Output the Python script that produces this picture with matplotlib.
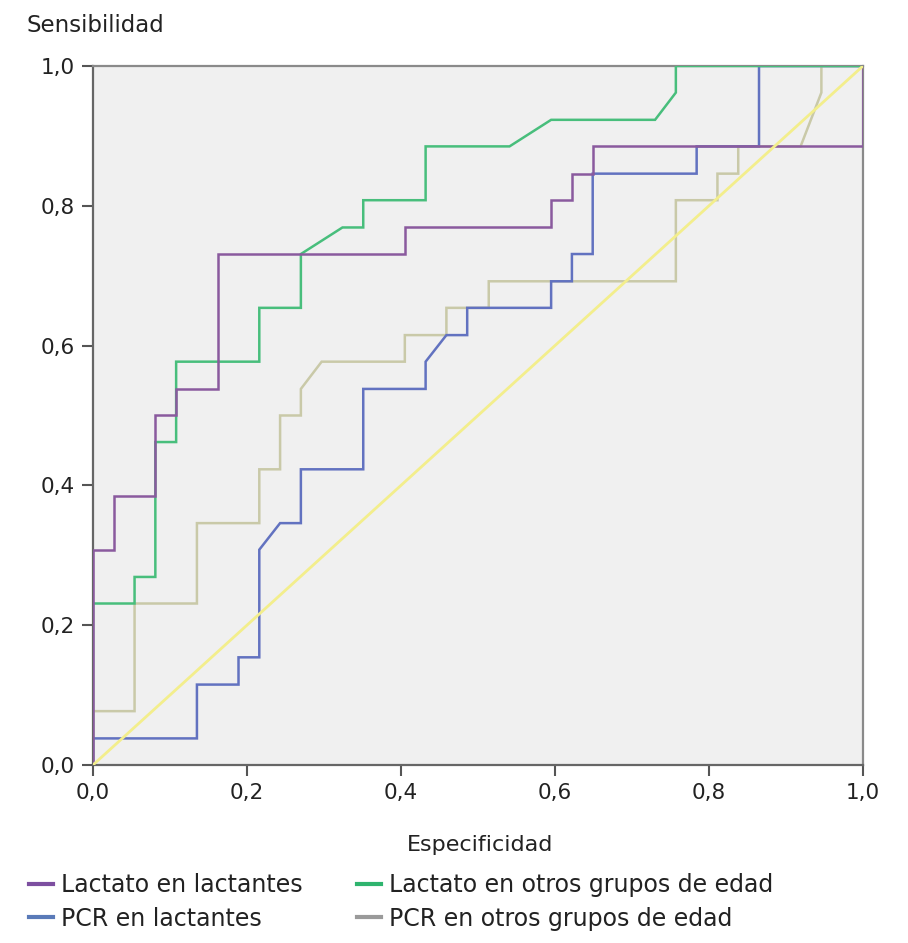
import matplotlib.pyplot as plt
from matplotlib.lines import Line2D
from matplotlib.ticker import FuncFormatter

# curvas COR (1 - especificidad, sensibilidad)
lact_lact_x = [0, 0, 0.027, 0.027, 0.081, 0.081, 0.108, 0.108, 0.162, 0.162, 0.405, 0.405,
               0.595, 0.595, 0.622, 0.622, 0.649, 0.649, 1.0, 1.0]
lact_lact_y = [0, 0.308, 0.308, 0.385, 0.385, 0.5, 0.5, 0.538, 0.538, 0.731, 0.731, 0.769,
               0.769, 0.808, 0.808, 0.846, 0.846, 0.885, 0.885, 1.0]

pcr_lact_x = [0, 0, 0.135, 0.135, 0.189, 0.189, 0.216, 0.216, 0.243, 0.270, 0.270, 0.351, 0.351,
              0.432, 0.432, 0.459, 0.486, 0.486, 0.595, 0.595, 0.622, 0.622, 0.649, 0.649,
              0.784, 0.784, 0.865, 0.865, 1.0]
pcr_lact_y = [0, 0.038, 0.038, 0.115, 0.115, 0.154, 0.154, 0.308, 0.346, 0.346, 0.423, 0.423, 0.538,
              0.538, 0.577, 0.615, 0.615, 0.654, 0.654, 0.692, 0.692, 0.731, 0.731, 0.846,
              0.846, 0.885, 0.885, 1.0, 1.0]

lact_otros_x = [0, 0, 0.054, 0.054, 0.081, 0.081, 0.108, 0.108, 0.216, 0.216, 0.270, 0.270,
                0.324, 0.351, 0.351, 0.432, 0.432, 0.541, 0.595, 0.730, 0.757, 0.757, 1.0]
lact_otros_y = [0, 0.231, 0.231, 0.269, 0.269, 0.462, 0.462, 0.577, 0.577, 0.654, 0.654, 0.731,
                0.769, 0.769, 0.808, 0.808, 0.885, 0.885, 0.923, 0.923, 0.962, 1.0, 1.0]

pcr_otros_x = [0, 0, 0.054, 0.054, 0.135, 0.135, 0.216, 0.216, 0.243, 0.243, 0.270, 0.270, 0.297,
               0.405, 0.405, 0.459, 0.459, 0.514, 0.514, 0.757, 0.757, 0.811, 0.811, 0.838,
               0.838, 0.919, 0.946, 0.946, 1.0]
pcr_otros_y = [0, 0.077, 0.077, 0.231, 0.231, 0.346, 0.346, 0.423, 0.423, 0.5, 0.5, 0.538, 0.577,
               0.577, 0.615, 0.615, 0.654, 0.654, 0.692, 0.692, 0.808, 0.808, 0.846, 0.846,
               0.885, 0.885, 0.962, 1.0, 1.0]

ref_x = [0, 1]
ref_y = [0, 1]

labels = ['Lactato en lactantes', 'PCR en lactantes',
          'Lactato en otros grupos de edad', 'PCR en otros grupos de edad']
line_colors = ['#8a5a9e', '#6272c0', '#48be7c', '#c9c9a8']
legend_colors = ['#7d4fa0', '#5a7ab8', '#2fb46e', '#9a9a9a']
ticks = [0, 0.2, 0.4, 0.6, 0.8, 1.0]

plt.rcParams['font.family'] = 'DejaVu Sans'

fig = plt.figure(figsize=(9.08, 9.43), dpi=100)
ax = fig.add_axes([0.1024, 0.1888, 0.848, 0.7412])
ax.set_facecolor('#f0f0f0')

curves = [(lact_lact_x, lact_lact_y), (pcr_lact_x, pcr_lact_y),
          (lact_otros_x, lact_otros_y), (pcr_otros_x, pcr_otros_y)]
order = [3, 1, 2, 0]
for i in order:
    xs, ys = curves[i]
    ax.plot(xs, ys, color=line_colors[i], lw=1.8, solid_joinstyle='miter', zorder=3)
ax.plot(ref_x, ref_y, color='#f3ee8c', lw=2, zorder=4)

ax.set_xlim(0, 1)
ax.set_ylim(0, 1)
ax.set_xticks(ticks)
ax.set_yticks(ticks)
fmt = FuncFormatter(lambda v, p: f'{v:.1f}'.replace('.', ','))
ax.xaxis.set_major_formatter(fmt)
ax.yaxis.set_major_formatter(fmt)
ax.tick_params(direction='out', length=8, width=1.5, color='#555555',
               labelsize=15.5, labelcolor='#222222', pad=5)
for s in ax.spines.values():
    s.set_color('#666666')
    s.set_linewidth(1.6)
ax.spines['top'].set_color('#8a8a8a')
ax.spines['right'].set_color('#8a8a8a')

fig.text(27 / 908, 1 - 25 / 943, 'Sensibilidad', fontsize=16.5, color='#222222',
         ha='left', va='center')
fig.text(480 / 908, 1 - 845 / 943, 'Especificidad', fontsize=16, color='#222222',
         ha='center', va='center')

handles = [Line2D([], [], color=c, lw=3) for c in legend_colors]
fig.legend(handles, labels, ncol=2, loc='center left',
           bbox_to_anchor=(8 / 908, 1 - 902 / 943), frameon=False,
           fontsize=17, handlelength=1.0, handletextpad=0.35, columnspacing=2.3,
           labelspacing=0.4, labelcolor='#222222')

plt.savefig('out.png', dpi=100)
